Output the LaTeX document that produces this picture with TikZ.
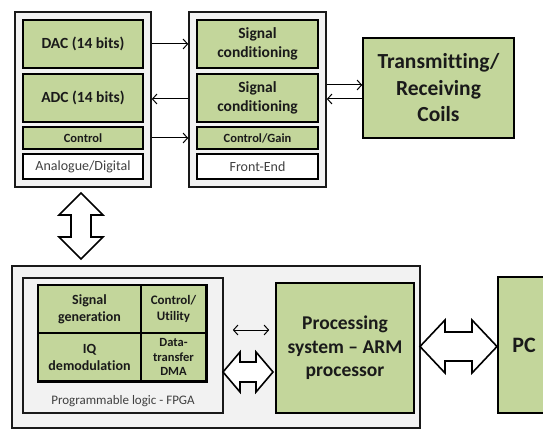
\documentclass[tikz,border=0pt]{standalone}
\usepackage{fontspec}
\setmainfont{Carlito}[Ligatures={NoCommon}]
\usetikzlibrary{arrows.meta,calc}
\definecolor{gfill}{HTML}{C3D69B}
\definecolor{pfill}{HTML}{F2F2F2}
\definecolor{txt}{HTML}{1A1A1A}
\definecolor{gtxt}{HTML}{404040}
\begin{document}
\begin{tikzpicture}[x=1pt,y=-1pt,
  box/.style={draw=black,line width=1.6pt,fill=gfill,inner sep=1pt,align=center,text=txt,
    font=\bfseries\fontsize{15.5}{19}\selectfont},
  smallbox/.style={box,font=\bfseries\fontsize{12.5}{15}\selectfont},
  cell/.style={draw=black,line width=1.4pt,fill=gfill,inner sep=1pt,align=center,text=txt},
  whitebox/.style={draw=black,line width=1.6pt,fill=white,inner sep=1pt,align=center,text=gtxt,
    font=\fontsize{14}{17}\selectfont},
  panel/.style={draw=black!90,line width=1.6pt,fill=pfill},
  conn/.style={line width=1pt,-{Straight Barb[length=4.5pt,width=10pt]}},
  conn2/.style={line width=1pt,{Straight Barb[length=4.5pt,width=10pt]}-{Straight Barb[length=4.5pt,width=10pt]}},
  hollow/.style={draw=black,line width=1.6pt,fill=white,line join=miter}
]
\useasboundingbox (0,0) rectangle (543,430);

% --- Analogue/Digital panel
\node[panel,minimum width=136pt,minimum height=175pt] (ad) at (83,99.5) {};
\node[box,minimum width=120pt,minimum height=48pt] (dac) at (83,44) {DAC (14 bits)};
\node[box,minimum width=120pt,minimum height=48pt] (adc) at (83,98) {ADC (14 bits)};
\node[smallbox,minimum width=120pt,minimum height=22pt] (ctl) at (83,138) {Control};
\node[whitebox,minimum width=120pt,minimum height=25pt] (adl) at (83,166.5) {Analogue/Digital};

% --- Front-End panel
\node[panel,minimum width=137pt,minimum height=175pt] (fe) at (257.5,99.5) {};
\node[box,minimum width=121pt,minimum height=48pt] (sc1) at (257.5,44) {Signal\\conditioning};
\node[box,minimum width=121pt,minimum height=48pt] (sc2) at (257.5,98) {Signal\\conditioning};
\node[smallbox,minimum width=121pt,minimum height=22pt] (cg) at (257.5,138) {Control/Gain};
\node[whitebox,minimum width=121pt,minimum height=25pt] (fel) at (257.5,166.5) {Front-End};

% --- Coils
\node[box,minimum width=151pt,minimum height=100pt,font=\bfseries\fontsize{21.5}{26.5}\selectfont] (coils) at (438.5,88) {Transmitting/\\Receiving\\Coils};

% --- connectors top
\coordinate (y85) at (0,85);
\coordinate (y99) at (0,99);
\draw[conn] (dac.east -| ad.east) -- (dac.east -| fe.west);
\draw[conn] (y99 -| fe.west) -- (y99 -| ad.east);
\draw[conn] (ctl.east -| ad.east) -- (ctl.east -| fe.west);
\draw[conn] (y85 -| fe.east) -- (y85 -| coils.west);
\draw[conn] (y99 -| coils.west) -- (y99 -| fe.east);

% --- vertical hollow double arrow
\draw[hollow] (81,193) -- (103,215) -- (91,215) -- (91,237) -- (103,237) -- (81,259)
  -- (59,237) -- (71,237) -- (71,215) -- (59,215) -- cycle;

% --- bottom panel
\node[panel,minimum width=408pt,minimum height=162pt] (bot) at (216,347) {};
\node[panel,minimum width=200pt,minimum height=135pt] (fpga) at (123,345.5) {};
\node[cell,minimum width=103pt,minimum height=48pt,font=\bfseries\fontsize{14}{17}\selectfont] (sg) at (89.5,309) {Signal\\generation};
\node[cell,minimum width=65pt,minimum height=48pt,font=\bfseries\fontsize{13}{16}\selectfont] (cu) at (173.5,309) {Control/\\Utility};
\node[cell,minimum width=103pt,minimum height=48pt,font=\bfseries\fontsize{14}{17}\selectfont] (iq) at (89.5,357) {IQ\\demodulation};
\node[cell,minimum width=65pt,minimum height=48pt,font=\bfseries\fontsize{12.5}{14.5}\selectfont] (dma) at (173.5,357) {Data-\\transfer\\DMA};
\draw[line width=1.6pt] (sg.north west) rectangle (dma.south east);
\node[text=gtxt,font=\fontsize{13}{16}\selectfont] (fpgal) at (123,401) {Programmable logic - FPGA};

\node[box,minimum width=138pt,minimum height=130pt,font=\bfseries\fontsize{19.5}{23.5}\selectfont] (arm) at (345,348) {Processing\\system -- ARM\\processor};
\node[box,minimum width=52pt,minimum height=136pt,font=\bfseries\fontsize{22}{26}\selectfont] (pc) at (524,345) {PC};

% --- small double arrow
\coordinate (y330) at (0,330);
\draw[conn2] ([xshift=9pt]y330 -| fpga.east) -- ([xshift=-6pt]y330 -| arm.west);

% --- hollow horizontal arrow FPGA <-> ARM
\draw[hollow] (223,372) -- (240,352) -- (240,362) -- (256,362) -- (256,352) -- (273,372)
  -- (256,392) -- (256,382) -- (240,382) -- (240,392) -- cycle;

% --- hollow arrow ARM <-> PC
\draw[hollow] (420,346.5) -- (445,320) -- (445,332) -- (472,332) -- (472,320) -- (497,346.5)
  -- (472,373) -- (472,361) -- (445,361) -- (445,373) -- cycle;
\end{tikzpicture}
\end{document}
